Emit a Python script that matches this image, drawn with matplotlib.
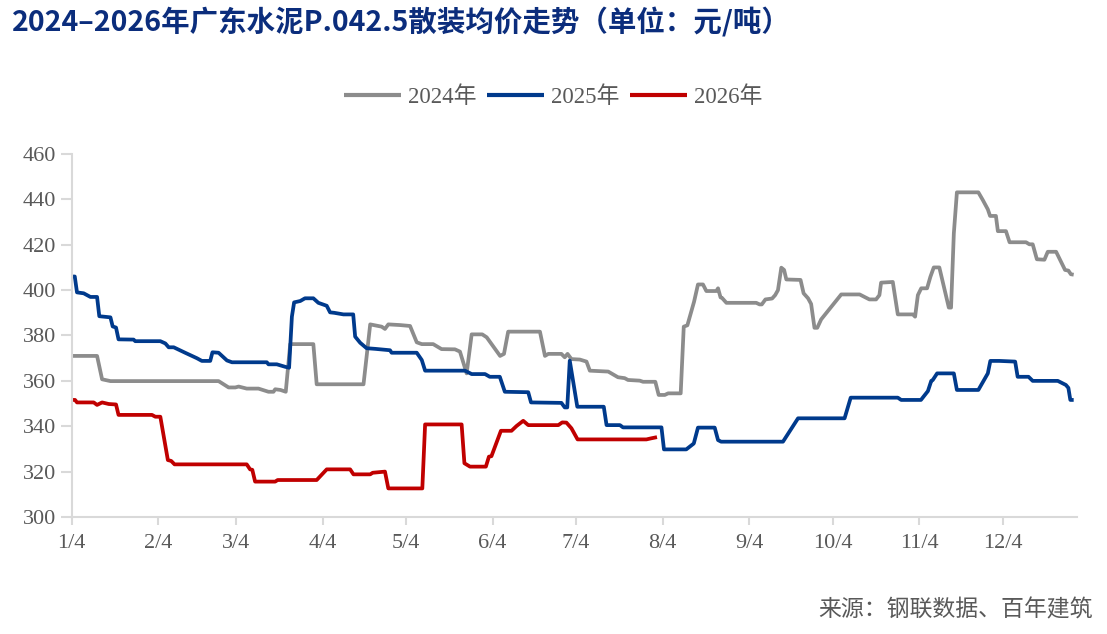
import matplotlib
matplotlib.use("Agg")
import matplotlib.pyplot as plt

# ---------------- data (day offset from Jan 4, value in 元/吨) ----------------
tick_days = [0, 31, 59, 90, 120, 151, 181, 212, 243, 273, 304, 334]
tick_labels = ["1/4", "2/4", "3/4", "4/4", "5/4", "6/4", "7/4", "8/4", "9/4", "10/4", "11/4", "12/4"]

days_2024 = [0, 9.1, 10.9, 13.9, 52.7, 54.5, 56.3, 58.7, 59.9, 62.8, 67, 70.6, 72.4, 73, 74.9, 76.8,
             78.4, 86.7, 87.9, 104.7, 107.1, 111.2, 112.4, 113.6, 117.8, 121.4, 123.8, 125.6, 129.7,
             132.7, 137.5, 139.3, 141.7, 143.5, 147.3, 148.9, 153.7, 155.1, 156.6, 168, 169.8, 171,
             175.7, 176.9, 177.9, 179.3, 182.3, 184.7, 185.9, 192.5, 196, 198.4, 199.6, 203.8, 205,
             209.4, 210.6, 212.8, 214, 218.5, 219.6, 220.9, 223.3, 224.7, 226.5, 227.7, 231.3, 231.9,
             232.8, 233.3, 234.9, 245.6, 246.8, 247.6, 248.9, 251.3, 252.4, 253.4, 254.6, 255.6, 256.4,
             261.5, 262.6, 264.2, 265.3, 266.5, 267.5, 268.9, 276.1, 282.7, 286.2, 288.6, 289.8, 290.4,
             294.6, 296.4, 301.8, 302.6, 303.6, 304.8, 306.9, 308.1, 309.3, 311.3, 314.7, 315.5, 316.5,
             317.6, 325.3, 326.9, 328.7, 329.5, 331.6, 332.3, 335.2, 336.5, 342.4, 343.6, 344.8, 346.3,
             349, 350.2, 353.2, 356.4, 357.6, 358.5, 359.5]
vals_2024 = [371, 371, 360.7, 359.9, 359.9, 358.5, 357.1, 357.1, 357.5, 356.6, 356.6, 355.2, 355.2, 356.3, 356, 355.2,
             376.2, 376.2, 358.5, 358.5, 384.9, 383.9, 382.9, 384.9, 384.6, 384.2, 377, 376.2, 376.2,
             374, 373.9, 372.9, 363.3, 380.5, 380.5, 379.2, 371, 371.9, 381.7, 381.7, 371, 371.9,
             371.9, 370.4, 371.9, 369.6, 369.4, 368.5, 364.5, 364.1, 361.6, 361.2, 360.4, 360.1, 359.6,
             359.6, 353.8, 353.8, 354.5, 354.5, 383.9, 384.5, 394.9, 402.5, 402.5, 399.6, 399.6, 400.8,
             396.8, 396.6, 394.4, 394.4, 393.7, 393.7, 395.9, 396.3, 397.8, 400, 409.9, 408.9, 404.7,
             404.5, 398.6, 396.4, 393.9, 383.4, 383.4, 387.1, 398.1, 398.1, 395.9, 395.9, 397.8, 403.3,
             403.6, 389.3, 389.3, 388.3, 397.8, 400.8, 400.8, 405.9, 410, 410, 392.3, 392.3, 425,
             443.1, 443.1, 439.7, 435.6, 432.7, 432.7, 426, 426, 421.1, 421.1, 420.2, 420.2, 413.6,
             413.4, 416.9, 416.9, 408.9, 408.6, 407, 406.8]

days_2025 = [0, 1.1, 1.9, 4.3, 6.7, 9.1, 9.9, 13.9, 14.7, 15.9, 16.8, 22.2, 22.8, 31.8, 33.6, 34.8, 36.6,
             40.7, 44.9, 46.7, 49.7, 50.5, 52.7, 55.7, 57.5, 70, 70.6, 73.6, 76.6, 78, 79, 79.8, 82, 83.7,
             86.7, 88.5, 91.5, 92.7, 94.2, 97.5, 101, 101.7, 103.5, 105.8, 109, 114.2, 114.8, 123.8,
             125.6, 126.8, 141.1, 143.5, 148.3, 150, 153.6, 155.4, 163.8, 164.8, 175.7, 176.9, 177.8,
             178.7, 181.4, 190.9, 191.9, 196.7, 197.8, 211.6, 212.5, 220.5, 223.2, 224.7, 230.7, 231.9,
             233, 255.2, 260.6, 277.3, 279.5, 296.4, 297.6, 304.7, 307.2, 308.4, 308.9, 310.5, 316.5,
             317.6, 325.3, 328.7, 329.6, 332.8, 338.5, 339.4, 343.3, 344.8, 353.8, 356.7, 357.6, 358.3,
             359.5]
vals_2025 = [406, 406, 399, 398.6, 397, 397, 388.5, 388, 384, 383.5, 378.3, 378.2, 377.5, 377.5, 376.5, 374.8, 374.8,
             372.4, 370, 368.8, 368.8, 372.6, 372.4, 369, 368.2, 368.2, 367.3, 367.3, 366.2, 365.8, 388.3, 394.6, 395.2, 396.4,
             396.4, 394.4, 393.1, 390.2, 390, 389.3, 389.3, 379.5, 376.8, 374.4, 374.1, 373.5, 372.4, 372.4,
             369.2, 364.5, 364.5, 363, 363, 361.8, 361.8, 355.2, 355, 350.5, 350.3, 348.3, 348.3,
             368.9, 348.6, 348.6, 340.5, 340.5, 339.5, 339.5, 329.8, 329.8, 332.4, 339.4, 339.4, 333.9,
             333.2, 333.2, 343.5, 343.5, 352.6, 352.6, 351.6, 351.6, 355.5, 360, 360.3, 363.3, 363.3,
             356, 356, 363.3, 368.8, 368.8, 368.5, 361.8, 361.8, 360, 360, 358.2, 356.9, 351.6,
             351.6]

days_2026 = [0, 1.2, 1.9, 7.9, 9.1, 10.9, 13.3, 15.9, 16.8, 28.8, 30, 31.8, 34.5, 35.7, 36.9, 62.8, 64, 64.8,
             65.8, 73, 73.9, 87.9, 91.5, 99.9, 101.1, 107.1, 108, 112.4, 113.6, 125.8, 126.8, 139.9, 140.9,
             142.9, 148.6, 149.7, 150.6, 154, 157.8, 159.6, 162, 163.8, 174.6, 176, 177.5, 179.3, 181.5,
             206.2, 208, 210]
vals_2026 = [351.6, 351.6, 350.5, 350.5, 349.4, 350.5, 349.8, 349.6, 345, 345, 344.2, 344.2, 325.1, 324.7, 323.2, 323.2, 321, 320.8,
             315.6, 315.6, 316.3, 316.3, 321, 321, 318.8, 318.8, 319.5, 320, 312.6, 312.6, 340.8, 340.8, 323.7,
             322.2, 322.2, 326.6, 326.8, 338, 338, 340.1, 342.4, 340.5, 340.5, 341.7, 341.6, 339.1, 334.2,
             334.2, 334.7, 335.2]

series_names = ["2024年", "2025年", "2026年"]
colors = ["#8c8c8c", "#003a8c", "#c00000"]

title = "2024–2026年广东水泥P.042.5散装均价走势（单位：元/吨）"
source = "来源：钢联数据、百年建筑"
y_ticks = [300, 320, 340, 360, 380, 400, 420, 440, 460]

# ---------------- figure ----------------
W, H = 1107, 634
fig = plt.figure(figsize=(W / 100, H / 100), dpi=100)
ax = fig.add_axes([71.7 / W, 1 - 517 / H, (1077.3 - 71.7) / W, (517 - 154) / H])

for d, v, c, n in zip([days_2024, days_2025, days_2026],
                      [vals_2024, vals_2025, vals_2026], colors, series_names):
    ax.plot(d, v, color=c, lw=2.7, label=n, solid_joinstyle="round", solid_capstyle="butt")

ax.set_xlim(0, 360.8)
ax.set_ylim(300, 460)
ax.set_xticks(tick_days)
ax.set_xticklabels(tick_labels)
ax.set_yticks(y_ticks)

for s in ["top", "right"]:
    ax.spines[s].set_visible(False)
for s in ["left", "bottom"]:
    ax.spines[s].set_color("#d9d9d9")
    ax.spines[s].set_linewidth(1.5)

ax.tick_params(axis="both", colors="#d9d9d9", width=1.5, labelcolor="#595959",
               labelsize=16, direction="out")
ax.tick_params(axis="x", length=6, pad=6)
ax.tick_params(axis="y", length=8, pad=3)
for lab in ax.get_xticklabels() + ax.get_yticklabels():
    lab.set_fontfamily("Liberation Serif")

fig.text(12 / W, 1 - 22 / H, title, ha="left", va="center", fontsize=20.5,
         fontweight="bold", color="#0b2d7c", family=["Noto Sans CJK SC", "DejaVu Sans"])

leg = fig.legend(loc="center", bbox_to_anchor=(553 / W, 1 - 97 / H), ncol=3, frameon=False,
                 handlelength=2.5, handletextpad=0.3, columnspacing=0.45,
                 prop={"family": ["Liberation Serif", "Noto Sans CJK SC"], "size": 16.5})
for t in leg.get_texts():
    t.set_color("#595959")
for l in leg.get_lines():
    l.set_linewidth(3)

fig.text(1093 / W, 1 - 610 / H, source, ha="right", va="center", fontsize=16.5,
         color="#595959", family=["Noto Sans CJK SC", "DejaVu Sans"])

fig.savefig("out.png", dpi=100)
